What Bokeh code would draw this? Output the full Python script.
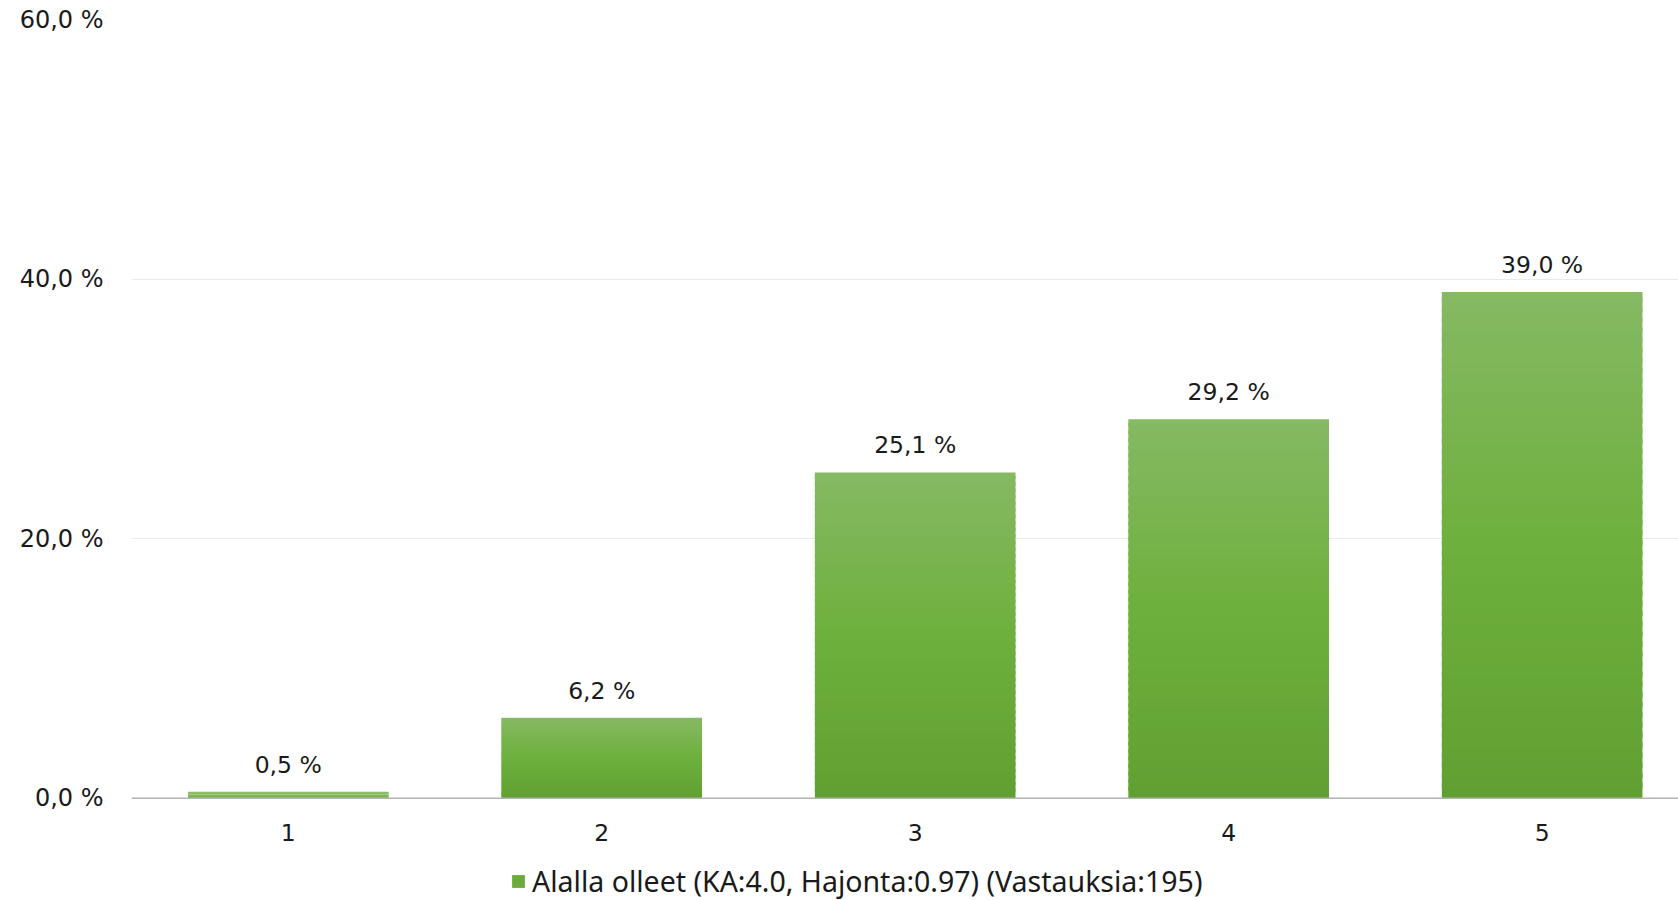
from bokeh.plotting import figure
from bokeh.models import (ColumnDataSource, FixedTicker, CustomJSTickFormatter, Legend,
                          LegendItem, Range1d, Span)
from bokeh.core.properties import value
from bokeh.embed import file_html
from bokeh.resources import INLINE

categories = ["1", "2", "3", "4", "5"]
percentages = [0.5, 6.2, 25.1, 29.2, 39.0]
labels = ["0,5 %", "6,2 %", "25,1 %", "29,2 %", "39,0 %"]
y_ticks = [0, 20, 40, 60]
series_name = "Alalla olleet (KA:4.0, Hajonta:0.97) (Vastauksia:195)"

TOP = (133, 185, 99)
MID = (110, 176, 61)
BOT = (96, 160, 50)


def grad(f):
    if f >= 0.5:
        t = (f - 0.5) / 0.5
        a, b = MID, TOP
    else:
        t = f / 0.5
        a, b = BOT, MID
    c = tuple(int(round(a[i] + (b[i] - a[i]) * t)) for i in range(3))
    return "#%02x%02x%02x" % c


N = 50
xs, tops, bottoms, cols = [], [], [], []
for i, v in enumerate(percentages):
    for k in range(N):
        xs.append(i + 1)
        bottoms.append(v * k / N)
        tops.append(min(v, v * (k + 1.5) / N))
        cols.append(grad((k + 0.5) / N))

slices = ColumnDataSource(dict(x=xs, top=tops, bottom=bottoms, color=cols))
xpos = list(range(1, len(categories) + 1))
lab = ColumnDataSource(dict(x=xpos, y=percentages, text=labels))
cat_src = ColumnDataSource(dict(x=xpos, y=[0] * len(categories), text=categories))

# frame spans the whole height; the value axis keeps 0 at the reference's baseline
p = figure(width=1678, height=900, output_backend="svg", toolbar_location=None,
           x_range=Range1d(0.5, 5.435), y_range=Range1d(-7.88, 60),
           x_axis_location=None,
           min_border_left=131, min_border_right=0, min_border_top=19,
           min_border_bottom=0)
p.outline_line_color = None
p.background_fill_color = "white"

p.xgrid.visible = False
p.ygrid.grid_line_color = "#e6eaf1"
p.ygrid.grid_line_width = 1
p.ygrid.ticker = FixedTicker(ticks=y_ticks)

bars = p.vbar(x="x", top="top", bottom="bottom", width=0.64, source=slices,
              fill_color="color", line_color=None)

p.add_layout(Span(location=0, dimension="width", line_color="#b3b3b3", line_width=1.5))

p.text(x="x", y="y", text="text", source=lab, text_align="center", text_baseline="middle",
       y_offset=-27, text_font=value("DejaVu Sans"), text_font_size="23.5px", text_color="#1a1a1a")

p.text(x="x", y="y", text="text", source=cat_src, text_align="center", text_baseline="middle",
       y_offset=34, text_font=value("DejaVu Sans"), text_font_size="23.5px", text_color="#1a1a1a")

p.yaxis.ticker = FixedTicker(ticks=y_ticks)
p.yaxis.formatter = CustomJSTickFormatter(code="return tick.toFixed(1).replace('.', ',') + ' %';")
p.yaxis.axis_line_color = None
p.yaxis.major_tick_line_color = None
p.yaxis.minor_tick_line_color = None
p.yaxis.major_label_standoff = 22
p.yaxis.major_label_text_font = "DejaVu Sans"
p.yaxis.major_label_text_font_size = "24px"
p.yaxis.major_label_text_color = "#1a1a1a"

legend = Legend(items=[LegendItem(label=series_name, renderers=[bars], index=17)],
                location=(379, 0), orientation="horizontal",
                glyph_width=16, glyph_height=16, label_standoff=6,
                label_text_font="Noto Sans", label_text_font_size="28.5px",
                label_text_color="#1a1a1a", border_line_color=None,
                background_fill_alpha=0, padding=0, margin=0, spacing=0)
p.add_layout(legend, "center")

open("out.html", "w").write(file_html(p, INLINE))
